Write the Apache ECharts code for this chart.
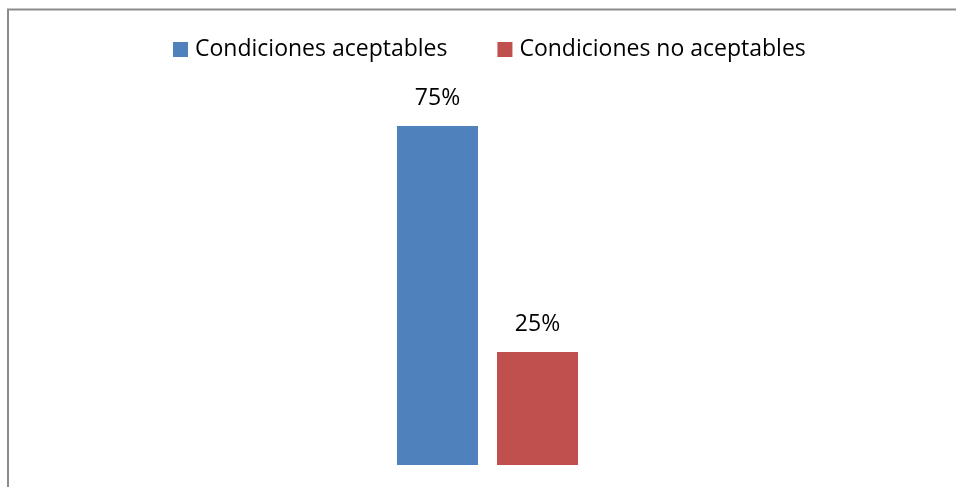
<!DOCTYPE html>
<html>
<head>
<meta charset="utf-8">
<script src="https://cdn.jsdelivr.net/npm/echarts@6/dist/echarts.min.js"></script>
<style>
  html, body { margin: 0; padding: 0; background: #ffffff; }
  #chart { width: 956px; height: 487px; }
</style>
</head>
<body>
<div id="chart"></div>
<script>
// Chart data
const categories = [''];
const seriesNames = ['Condiciones aceptables', 'Condiciones no aceptables'];
const aceptables = [75];
const noAceptables = [25];
const seriesColors = ['#4f81bd', '#c0504d'];

const FONT = '"Open Sans", "Liberation Sans", sans-serif';

const chart = echarts.init(document.getElementById('chart'), null, { renderer: 'canvas' });

const labelStyle = {
  show: true,
  position: 'top',
  distance: 16,
  formatter: '{c}%',
  color: '#000000',
  fontSize: 23,
  fontFamily: FONT
};

chart.setOption({
  animation: false,
  backgroundColor: '#ffffff',
  legend: {
    top: 33,
    left: 168,
    itemWidth: 15,
    itemHeight: 15,
    itemGap: 50,
    icon: 'rect',
    textStyle: { color: '#000000', fontSize: 23, fontFamily: FONT, padding: [0, 0, 0, 2] },
    data: seriesNames
  },
  grid: { left: 40, right: 21, top: 13, bottom: 22, containLabel: false },
  xAxis: {
    type: 'category',
    data: categories,
    axisLine: { show: false },
    axisTick: { show: false },
    axisLabel: { show: false }
  },
  yAxis: {
    type: 'value',
    min: 0,
    max: 100,
    show: false,
    splitLine: { show: false }
  },
  series: [
    {
      name: seriesNames[0],
      type: 'bar',
      data: aceptables,
      barWidth: 81,
      barGap: '23.5%',
      itemStyle: { color: seriesColors[0] },
      label: labelStyle
    },
    {
      name: seriesNames[1],
      type: 'bar',
      data: noAceptables,
      barWidth: 81,
      itemStyle: { color: seriesColors[1] },
      label: labelStyle
    }
  ],
  graphic: [
    {
      type: 'polyline',
      silent: true,
      shape: { points: [[8, 487], [8, 9.5], [956, 9.5]] },
      style: { stroke: '#8c8c8c', lineWidth: 2, fill: null }
    }
  ]
});
</script>
</body>
</html>
